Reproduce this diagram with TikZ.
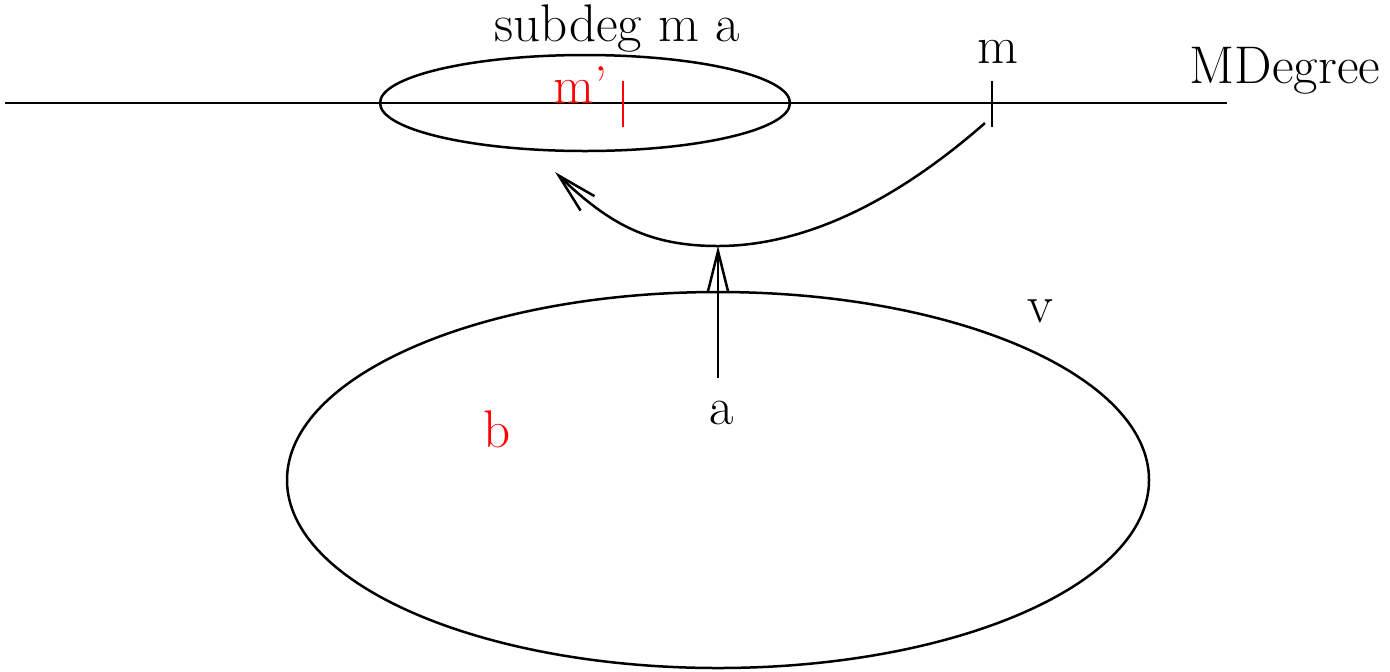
\documentclass[tikz,border=0pt]{standalone}
\usepackage{xcolor}
\usetikzlibrary{arrows.meta}

\tikzset{
	wire/.style={line width=1.25pt},
	barb/.style={-{Straight Barb[length=20pt, width=10pt, line width=1.25pt]}},
	lbl/.style={anchor=base, inner sep=0pt, font=\rmfamily\fontsize{26.5}{31}\selectfont},
	redlbl/.style={lbl, text=red}
}

\begin{document}
\begin{tikzpicture}[x=0.5pt, y=-0.5pt]
	\useasboundingbox (0, 0) rectangle (1390, 671);
	% Paths, nodes and wires:
	\draw[wire] (5, 103) -- (1227, 103);
	\draw[wire] (585, 103) ellipse [x radius=205, y radius=48];
	\draw[wire] (718, 480) ellipse [x radius=431, y radius=188];
	\draw[wire] (992, 81) -- (992, 127);
	\draw[wire, red] (623, 81) -- (623, 127);
	\node[lbl] (subdeg) at (617, 41){subdeg m a};
	\node[redlbl] (mprime) at (581, 103){m'};
	\node[lbl] (m) at (998, 63){m};
	\node[lbl] (mdeg) at (1285, 83){MDegree};
	\node[lbl] (v) at (1040, 322){v};
	\node[redlbl] (b) at (497, 447){b};
	\node[lbl] (a) at (722, 424){a};
	\coordinate (low) at (718, 246);
	\coordinate (mend) at (985, 123);
	\coordinate (tip) at (555, 172);
	\draw[wire, barb] (718, 378) -- (low);
	\draw[wire, barb] (mend) .. controls (880, 215) and (790, 246) .. (low) .. controls (650, 246) and (610, 225) .. (tip);
\end{tikzpicture}
\end{document}
